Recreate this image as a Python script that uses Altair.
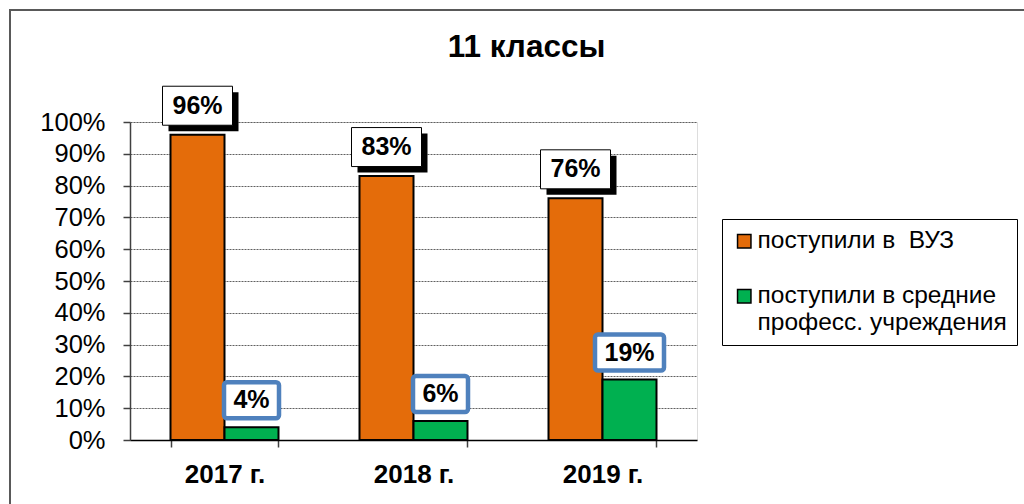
import altair as alt
import pandas as pd

years = ["2017 г.", "2018 г.", "2019 г."]
series = ["поступили в\u00a0 ВУЗ", "поступили в средние професс. учреждения"]
vuz = [96, 83, 76]
spo = [4, 6, 19]

rows = []
for i, y in enumerate(years):
    rows.append({"year": y, "series": series[0], "value": vuz[i], "label": f"{vuz[i]}%"})
    rows.append({"year": y, "series": series[1], "value": spo[i], "label": f"{spo[i]}%"})
df = pd.DataFrame(rows)

FONT = "Liberation Sans"
PX = 318 / 100.0  # pixels per percent on the y scale
HALF = 27         # half of one bar's width in pixels

x_axis = alt.Axis(title=None, labelAngle=0, labelFont=FONT, labelFontSize=26,
                  labelFontWeight="bold", labelColor="black", labelBaseline="alphabetic",
                  labelPadding=35, tickBand="extent", tickSize=7, tickColor="#404040",
                  tickWidth=1.5, domainColor="black", domainWidth=1.5, grid=False)
x_scale = alt.Scale(paddingInner=0.4286, paddingOuter=0.2143)
x_enc = alt.X("year:N", sort=years, scale=x_scale, axis=x_axis)
xo_enc = alt.XOffset("series:N", sort=series, scale=alt.Scale(paddingInner=0, paddingOuter=0))
y_scale = alt.Scale(domain=[0, 100])
y_axis = alt.Axis(title=None, values=list(range(0, 101, 10)), labelExpr="datum.value + '%'",
                  labelFont=FONT, labelFontSize=25.5, labelColor="black", labelPadding=18,
                  labelOverlap=False, tickSize=7, tickColor="#404040", tickWidth=1.5,
                  domainColor="#404040", domainWidth=1.5, grid=True, gridColor="#606060",
                  gridDash=[2, 1], gridWidth=1)


def yq(field):
    return alt.Y(field, scale=y_scale, axis=y_axis)


base = alt.Chart(df)

bars = base.mark_bar(stroke="black", strokeWidth=2).encode(
    x=x_enc, xOffset=xo_enc, y=yq("value:Q"),
    color=alt.Color(
        "series:N", sort=series,
        scale=alt.Scale(domain=series, range=["#E46C0A", "#00B050"]),
        legend=alt.Legend(
            orient="none", legendX=592, legendY=97, title=None,
            strokeColor="black", padding=10, symbolType="square", symbolSize=180,
            symbolStrokeColor="black", symbolStrokeWidth=1.5, symbolOpacity=1,
            labelFont=FONT, labelFontSize=24.5, labelColor="black", labelLimit=400,
            rowPadding=30, labelBaseline="middle", labelOffset=1,
            labelExpr="datum.label == 'поступили в средние професс. учреждения' ? ['поступили в средние', 'професс. учреждения'] : datum.label",
        ),
    ),
)

# orange label boxes with shadow
vuz_lbl = base.transform_filter(alt.datum.series == series[0])
shadow = vuz_lbl.transform_calculate(
    lo="datum.value + (29 - 19.5 - 6) / " + str(PX),
    hi="datum.value + (29 + 19.5 - 6) / " + str(PX),
).mark_bar(width=70, fill="black", xOffset=-HALF + 6).encode(
    x=x_enc, y=yq("lo:Q"), y2="hi:Q")
box = vuz_lbl.transform_calculate(
    lo="datum.value + (29 - 19.5) / " + str(PX),
    hi="datum.value + (29 + 19.5) / " + str(PX),
).mark_bar(width=70, fill="white", stroke="black", strokeWidth=1, xOffset=-HALF).encode(
    x=x_enc, y=yq("lo:Q"), y2="hi:Q")
vuz_txt = vuz_lbl.mark_text(font=FONT, fontSize=25, fontWeight="bold", color="black",
                            dy=-29, dx=-HALF, baseline="middle").encode(
    x=x_enc, y=yq("value:Q"), text="label:N")

# green label boxes (blue rounded border)
spo_lbl = base.transform_filter(alt.datum.series == series[1]).transform_calculate(
    lo="datum.value + (27 - 18) / " + str(PX),
    hi="datum.value + (27 + 18) / " + str(PX),
    n="length(datum.label)",
)
gbox2 = spo_lbl.transform_filter("datum.n < 3").mark_bar(
    width=55, fill="white", stroke="#4F81BD", strokeWidth=4.5, cornerRadius=3,
    xOffset=HALF).encode(x=x_enc, y=yq("lo:Q"), y2="hi:Q")
gbox3 = spo_lbl.transform_filter("datum.n >= 3").mark_bar(
    width=69, fill="white", stroke="#4F81BD", strokeWidth=4.5, cornerRadius=3,
    xOffset=HALF).encode(x=x_enc, y=yq("lo:Q"), y2="hi:Q")
spo_txt = spo_lbl.mark_text(font=FONT, fontSize=25, fontWeight="bold", color="black",
                            dy=-27, dx=HALF, baseline="middle").encode(
    x=x_enc, y=yq("value:Q"), text="label:N")

frame = alt.Chart(alt.Data(values=[{"f": 1}])).mark_rect(
    fill=None, fillOpacity=0, stroke="#595959", strokeWidth=2).encode(
    x=alt.value(-120), x2=alt.value(1000), y=alt.value(-112), y2=alt.value(500))

chart = alt.layer(frame, bars, shadow, box, vuz_txt, gbox2, gbox3, spo_txt).properties(
    width=567, height=318,
    padding={"left": 130, "top": 122, "right": 327, "bottom": 64},
    autosize=alt.AutoSizeParams(type="none"),
    title=alt.TitleParams("11 классы", font=FONT, fontSize=31.5, fontWeight="bold",
                          color="black", anchor="middle", dx=113, offset=0,
                          baseline="alphabetic", dy=79),
).configure_view(stroke="#808080", strokeWidth=2).configure(background="white")

chart.save("out.html", embed_options={"renderer": "svg", "actions": False})
